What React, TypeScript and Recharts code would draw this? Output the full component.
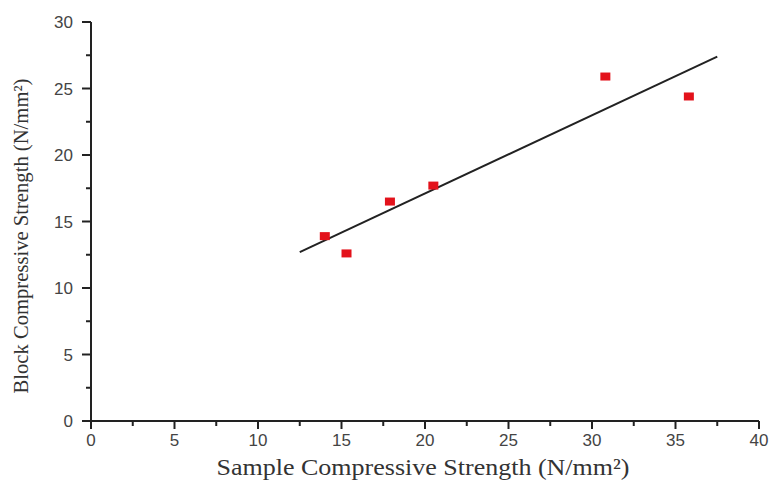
import { ScatterChart, Scatter, XAxis, YAxis, Label } from 'recharts';

// measured points (sample vs block compressive strength, N/mm²)
const sampleStrength = [14.0, 15.3, 17.9, 20.5, 30.8, 35.8];
const blockStrength = [13.9, 12.6, 16.5, 17.7, 25.9, 24.4];

// linear fit endpoints as drawn
const fitX = [12.5, 37.5];
const fitY = [12.7, 27.4];

const xTicks = [0, 2.5, 5, 7.5, 10, 12.5, 15, 17.5, 20, 22.5, 25, 27.5, 30, 32.5, 35, 37.5, 40];
const yTicks = [0, 2.5, 5, 7.5, 10, 12.5, 15, 17.5, 20, 22.5, 25, 27.5, 30];

const points = sampleStrength.map((x, i) => ({ x, y: blockStrength[i] }));
const fit = fitX.map((x, i) => ({ x, y: fitY[i] }));

const AXIS = '#222';
const TICK_TEXT = '#444';
const SANS = '"Liberation Sans", Arial, sans-serif';
const SERIF = '"Liberation Serif", "Times New Roman", serif';

const XTick = (props: any) => {
  const { x, y, payload } = props;
  const major = payload.value % 5 === 0;
  return (
    <g>
      <line x1={x} x2={x} y1={y} y2={y + (major ? 8 : 5)} stroke={AXIS} strokeWidth={2} />
      {major && (
        <text x={x} y={y + 25} textAnchor="middle" fontSize={17} fill={TICK_TEXT} fontFamily={SANS}>
          {payload.value}
        </text>
      )}
    </g>
  );
};

const YTick = (props: any) => {
  const { x, y, payload } = props;
  const major = payload.value % 5 === 0;
  return (
    <g>
      <line x1={x} x2={x - (major ? 9 : 5)} y1={y} y2={y} stroke={AXIS} strokeWidth={2} />
      {major && (
        <text x={x - 18} y={y + 6} textAnchor="end" fontSize={17} fill={TICK_TEXT} fontFamily={SANS}>
          {payload.value}
        </text>
      )}
    </g>
  );
};

const RedSquare = (p: any) => (
  <rect x={p.cx - 5} y={p.cy - 4} width={10} height={8} fill="#e3121b" />
);

export default function App() {
  return (
    <div style={{ position: 'absolute', left: 0, top: 0, background: '#fff' }}>
      <ScatterChart width={772} height={484} margin={{ top: 22, right: 13, bottom: 0, left: 0 }}>
        <XAxis
          type="number"
          dataKey="x"
          domain={[0, 40]}
          ticks={xTicks}
          interval={0}
          tickSize={0}
          tickMargin={0}
          tick={<XTick />}
          height={63}
          axisLine={{ stroke: AXIS, strokeWidth: 2 }}
        >
          <Label
            content={() => (
              <text
                x={423}
                y={475}
                textAnchor="middle"
                fontSize={23}
                textLength={413}
                lengthAdjust="spacingAndGlyphs"
                fill="#333"
                fontFamily={SERIF}
              >
                Sample Compressive Strength (N/mm²)
              </text>
            )}
          />
        </XAxis>
        <YAxis
          type="number"
          dataKey="y"
          domain={[0, 30]}
          ticks={yTicks}
          interval={0}
          tickSize={0}
          tickMargin={0}
          tick={<YTick />}
          width={91}
          axisLine={{ stroke: AXIS, strokeWidth: 2 }}
        >
          <Label
            content={() => (
              <text
                x={0}
                y={0}
                transform="translate(28, 236) rotate(-90)"
                textAnchor="middle"
                fontSize={21}
                textLength={315}
                lengthAdjust="spacingAndGlyphs"
                fill="#333"
                fontFamily={SERIF}
              >
                Block Compressive Strength (N/mm²)
              </text>
            )}
          />
        </YAxis>
        <Scatter
          data={fit}
          line={{ stroke: '#222', strokeWidth: 2 }}
          shape={() => <g />}
          isAnimationActive={false}
        />
        <Scatter data={points} shape={RedSquare} isAnimationActive={false} />
      </ScatterChart>
    </div>
  );
}
